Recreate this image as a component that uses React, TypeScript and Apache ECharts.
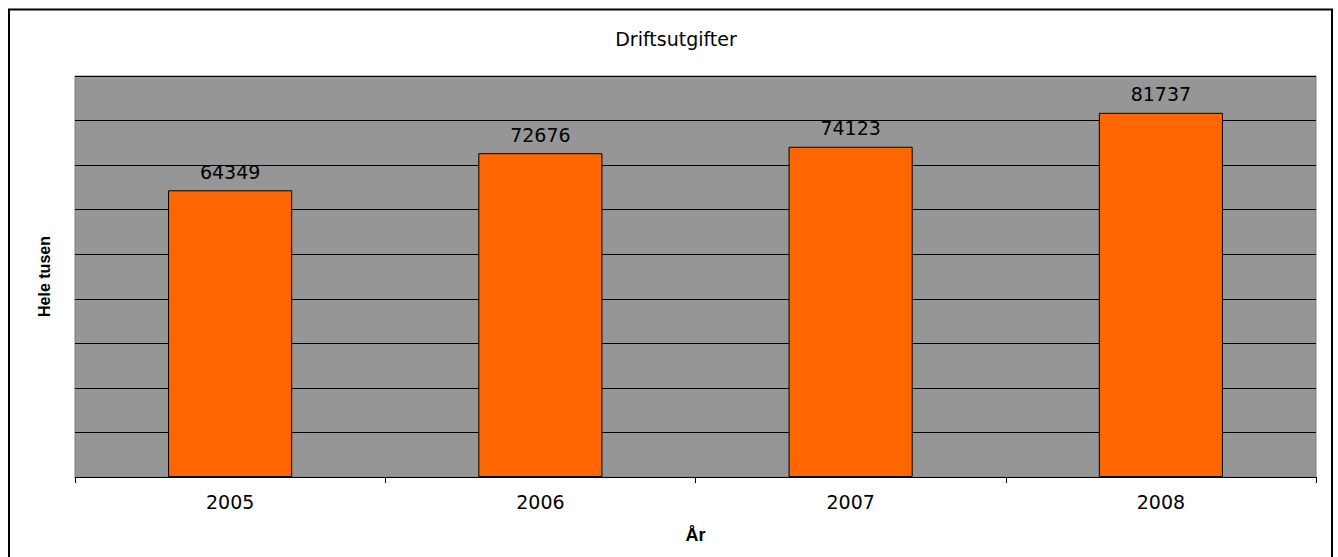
import React, { useEffect, useRef } from "react";
import * as echarts from "echarts";

const categories = ["2005", "2006", "2007", "2008"];
const values = [64349, 72676, 74123, 81737];
const chartTitle = "Driftsutgifter";
const xName = "År";
const yName = "Hele tusen";

export default function App() {
  const ref = useRef<HTMLDivElement>(null);
  useEffect(() => {
    if (!ref.current) return;
    const chart = echarts.init(ref.current, undefined, { renderer: "svg" });
    const font = "DejaVu Sans";
    chart.setOption({
      animation: false,
      backgroundColor: "#ffffff",
      title: {
        text: chartTitle,
        left: 671,
        textAlign: "center",
        top: 24,
        textStyle: { fontFamily: font, fontSize: 19, fontWeight: "normal", color: "#000" },
      },
      graphic: [
        {
          type: "rect",
          shape: { x: 9, y: 9.5, width: 1323, height: 560 },
          style: { fill: "none", stroke: "#000", lineWidth: 2 },
          silent: true,
        },
      ],
      grid: {
        left: 75,
        top: 76,
        right: 22,
        bottom: 80,
        show: true,
        backgroundColor: "#969696",
        borderColor: "#7f7f7f",
        borderWidth: 1,
      },
      xAxis: {
        type: "category",
        data: categories,
        name: xName,
        nameLocation: "middle",
        nameGap: 49,
        nameTextStyle: { fontFamily: "Liberation Sans", fontSize: 18, fontWeight: "bold", color: "#000" },
        axisLine: { lineStyle: { color: "#000", width: 1 } },
        axisTick: { show: true, length: 6, lineStyle: { color: "#000" } },
        axisLabel: { fontFamily: font, fontSize: 19, color: "#000", margin: 15 },
      },
      yAxis: {
        type: "value",
        min: 0,
        max: 90000,
        interval: 10000,
        name: yName,
        nameLocation: "middle",
        nameGap: 23,
        nameTextStyle: { fontFamily: "Liberation Sans", fontSize: 16, fontWeight: "bold", color: "#000" },
        axisLine: { show: false },
        axisTick: { show: false },
        axisLabel: { show: false },
        splitLine: { lineStyle: { color: "#000", width: 1 } },
      },
      series: [
        {
          type: "bar",
          data: values,
          barWidth: "40%",
          itemStyle: { color: "#ff6600", borderColor: "#000", borderWidth: 1 },
          label: {
            show: true,
            position: "top",
            distance: 9,
            fontFamily: font,
            fontSize: 19,
            color: "#000",
          },
        },
      ],
    });
    return () => chart.dispose();
  }, []);
  return (
    <div
      ref={ref}
      style={{ position: "absolute", left: 0, top: 0, width: 1338, height: 557 }}
    />
  );
}
